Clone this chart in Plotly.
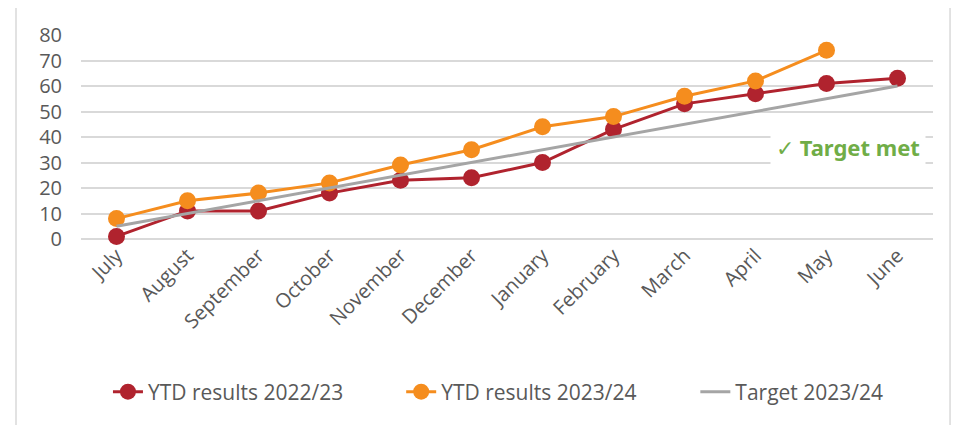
import plotly.graph_objects as go

months = ["July", "August", "September", "October", "November", "December",
          "January", "February", "March", "April", "May", "June"]
ytd_2223 = [1, 11, 11, 18, 23, 24, 30, 43, 53, 57, 61, 63]
ytd_2324 = [8, 15, 18, 22, 29, 35, 44, 48, 56, 62, 74]
target_2324 = [5, 10, 15, 20, 25, 30, 35, 40, 45, 50, 55, 60]

FONT = "'Open Sans', sans-serif"
GREY_TXT = "#595959"

fig = go.Figure()
fig.add_trace(go.Scatter(
    x=months, y=ytd_2223, name="YTD results 2022/23", mode="lines+markers",
    line=dict(color="#b0232e", width=3), marker=dict(size=17, color="#b0232e"),
    cliponaxis=False, legend="legend"))
fig.add_trace(go.Scatter(
    x=months[:len(ytd_2324)], y=ytd_2324, name="YTD results 2023/24", mode="lines+markers",
    line=dict(color="#f58d1e", width=3), marker=dict(size=17, color="#f58d1e"),
    cliponaxis=False, legend="legend2"))
fig.add_trace(go.Scatter(
    x=months, y=target_2324, name="Target 2023/24", mode="lines",
    line=dict(color="#a5a5a5", width=3), cliponaxis=False, legend="legend3"))


def leg(xpos):
    return dict(orientation="h", xref="container", yref="container",
                x=xpos, xanchor="left", y=0.079, yanchor="middle",
                font=dict(size=21, color=GREY_TXT), bgcolor="rgba(0,0,0,0)")


# page body has an 8px margin; figure sized/offset to compensate
fig.update_layout(
    width=952, height=417,
    margin=dict(l=73, r=27, t=27, b=186, autoexpand=False),
    paper_bgcolor="white", plot_bgcolor="white",
    font=dict(family=FONT, size=20, color=GREY_TXT),
    showlegend=True,
    legend=leg(0.105), legend2=leg(0.413), legend3=leg(0.722),
    xaxis=dict(type="category", range=[-0.5, 11.5], tickangle=-45, showgrid=False,
               showline=False, ticks="", automargin=False,
               tickfont=dict(size=20, color=GREY_TXT)),
    yaxis=dict(range=[0, 80], dtick=10, showgrid=True, gridcolor="#d9d9d9", gridwidth=1.5,
               zeroline=True, zerolinecolor="#d9d9d9", zerolinewidth=1.5,
               showline=False, ticks="", automargin=False, ticklabelstandoff=18,
               tickfont=dict(size=20, color=GREY_TXT)),
    annotations=[dict(
        text="✓ <b>Target met</b>", x=10.3, y=36, xref="x", yref="y",
        showarrow=False, font=dict(family="'Noto Sans', sans-serif", size=22, color="#70ad47"),
        bgcolor="white", borderpad=5, xanchor="center", yanchor="middle")],
    shapes=[dict(type="rect", xref="paper", yref="paper",
                 x0=-0.0763, x1=1.02, y0=-1.2, y1=1.142,
                 line=dict(color="#d9d9d9", width=1.5), layer="below")],
)

fig.write_html("out.html")
